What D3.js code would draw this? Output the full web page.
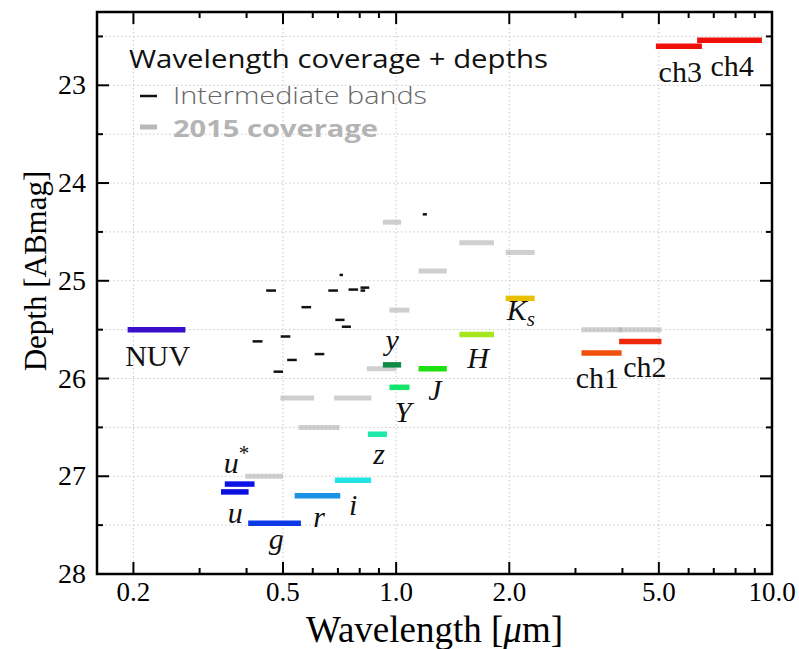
<!DOCTYPE html>
<html lang="en">
<head>
    <meta charset="UTF-8" />
    <script src="https://d3js.org/d3.v7.min.js"></script>
    <title>Wavelength coverage</title>
    <style>
        body { margin: 0; background: #fff; }
        svg { display: block; }
    </style>
</head>
<body>
<svg></svg>
<script>
    // main filters: name, wavelength range [um], depth [ABmag], colour
    let bandNames  = ["NUV", "u*", "u", "g", "r", "i", "z", "y", "Y", "J", "H", "Ks", "ch1", "ch2", "ch3", "ch4"];
    let bandMin    = [0.193, 0.350, 0.342, 0.404, 0.537, 0.687, 0.841, 0.922, 0.960, 1.147, 1.473, 1.956, 3.113, 3.92, 4.91, 6.32];
    let bandMax    = [0.275, 0.420, 0.405, 0.558, 0.710, 0.858, 0.945, 1.031, 1.085, 1.364, 1.821, 2.336, 3.98, 5.08, 6.51, 9.40];
    let bandDepth  = [25.50, 27.08, 27.16, 27.48, 27.20, 27.04, 26.57, 25.86, 26.09, 25.90, 25.55, 25.18, 25.74, 25.62, 22.60, 22.54];
    let bandColors = ["#3a0fcc", "#0b14e6", "#0b10e0", "#0a3ae6", "#1c92e6", "#22e4e4", "#1ee8a8", "#0f8a45",
                      "#12e66a", "#1ee010", "#a6e61c", "#e8c000", "#f0500a", "#f0280a", "#f0100a", "#f0100a"];
    // where each filter name sits (wavelength, depth at baseline)
    let labelX = [0.232, 0.376, 0.373, 0.480, 0.624, 0.769, 0.901, 0.976, 1.044, 1.269, 1.651, 2.148, 3.43, 4.59, 5.70, 7.83];
    let labelY = [25.87, 26.97, 27.48, 27.74, 27.52, 27.40, 26.87, 25.71, 26.44, 26.22, 25.89, 25.40, 26.10, 25.98, 22.97, 22.90];

    // 2015 coverage
    let oldMin   = [0.397, 0.492, 0.550, 0.684, 0.836, 0.922, 0.960, 1.147, 1.473, 1.956, 3.113, 3.92];
    let oldMax   = [0.500, 0.605, 0.707, 0.859, 1.000, 1.031, 1.085, 1.364, 1.821, 2.336, 3.98, 5.08];
    let oldDepth = [27.00, 26.20, 26.50, 26.20, 25.90, 24.40, 25.30, 24.90, 24.61, 24.71, 25.50, 25.50];

    // intermediate bands
    let ibMin   = [1.177, 0.707, 0.451, 0.660, 0.747, 0.804, 0.804, 0.560, 0.689, 0.717, 0.415, 0.493, 0.607, 0.513, 0.472];
    let ibMax   = [1.207, 0.722, 0.479, 0.700, 0.792, 0.848, 0.827, 0.594, 0.729, 0.758, 0.441, 0.523, 0.644, 0.544, 0.500];
    let ibDepth = [24.32, 24.94, 25.10, 25.10, 25.09, 25.07, 25.10, 25.27, 25.40, 25.47, 25.62, 25.57, 25.75, 25.81, 25.93];

    let xMajor = [0.2, 0.5, 1, 2, 5, 10];
    let xMajorLabels = ["0.2", "0.5", "1.0", "2.0", "5.0", "10.0"];
    let xMinor = [0.3, 0.4, 0.6, 0.7, 0.8, 0.9, 3, 4, 6, 7, 8, 9];
    let yMajor = [23, 24, 25, 26, 27, 28];
    let yMinor = [22.5, 23.5, 24.5, 25.5, 26.5, 27.5];

    let width = 799, height = 649;
    let plotL = 97, plotR = 772, plotT = 12, plotB = 574;

    let svg = d3.select("svg")
        .attr("width", width)
        .attr("height", height);

    let x = d3.scaleLog().domain([0.16, 10]).range([plotL, plotR]);
    let y = d3.scaleLinear().domain([22.25, 28]).range([plotT, plotB]);

    let serif = "'Liberation Serif', 'DejaVu Serif', serif";
    let sans = "'Open Sans', Lato, sans-serif";

    // grid
    let grid = svg.append("g").attr("stroke", "#c8c8c8").attr("stroke-width", 1).attr("stroke-dasharray", "1.5,2.5");
    grid.selectAll("line.gx")
        .data(xMajor.slice(0, -1))
        .enter().append("line")
        .attr("x1", d => x(d)).attr("x2", d => x(d))
        .attr("y1", plotT).attr("y2", plotB);
    grid.selectAll("line.gy")
        .data(yMajor.slice(0, -1).concat(yMinor))
        .enter().append("line")
        .attr("x1", plotL).attr("x2", plotR)
        .attr("y1", d => y(d)).attr("y2", d => y(d));

    // 2015 coverage bars
    svg.append("g")
        .selectAll("line")
        .data(oldDepth)
        .enter().append("line")
        .attr("x1", (d, i) => x(oldMin[i]))
        .attr("x2", (d, i) => x(oldMax[i]))
        .attr("y1", d => y(d)).attr("y2", d => y(d))
        .attr("stroke", "#a8a8a8")
        .attr("stroke-opacity", 0.55)
        .attr("stroke-width", 5);

    // intermediate bands
    svg.append("g")
        .selectAll("line")
        .data(ibDepth)
        .enter().append("line")
        .attr("x1", (d, i) => x(ibMin[i]))
        .attr("x2", (d, i) => x(ibMax[i]))
        .attr("y1", d => y(d)).attr("y2", d => y(d))
        .attr("stroke", "#111")
        .attr("stroke-width", 2.5);

    // main filters
    svg.append("g")
        .selectAll("line")
        .data(bandDepth)
        .enter().append("line")
        .attr("x1", (d, i) => x(bandMin[i]))
        .attr("x2", (d, i) => x(bandMax[i]))
        .attr("y1", d => y(d)).attr("y2", d => y(d))
        .attr("stroke", (d, i) => bandColors[i])
        .attr("stroke-width", 5.5);

    // filter names
    let labels = svg.append("g")
        .attr("font-family", serif)
        .attr("font-size", 30)
        .attr("fill", "#111")
        .attr("text-anchor", "middle");
    bandNames.forEach((name, i) => {
        let t = labels.append("text")
            .attr("x", x(labelX[i]))
            .attr("y", y(labelY[i]));
        if (name == "u*") {
            t.append("tspan").attr("font-style", "italic").text("u");
            t.append("tspan").attr("font-size", 21).attr("dy", -13).text("*");
        } else if (name == "Ks") {
            t.append("tspan").attr("font-style", "italic").text("K");
            t.append("tspan").attr("font-style", "italic").attr("font-size", 21).attr("dy", 6).text("s");
        } else if (name.startsWith("ch") || name == "NUV") {
            t.text(name);
        } else {
            t.attr("font-style", "italic").text(name);
        }
    });

    // frame and ticks (inward, all four sides)
    svg.append("rect")
        .attr("x", plotL).attr("y", plotT)
        .attr("width", plotR - plotL).attr("height", plotB - plotT)
        .attr("fill", "none")
        .attr("stroke", "#000")
        .attr("stroke-width", 2.5);

    let ticks = svg.append("g").attr("stroke", "#000").attr("stroke-width", 2);
    function xTicks(vals, len) {
        vals.forEach(v => {
            ticks.append("line").attr("x1", x(v)).attr("x2", x(v)).attr("y1", plotB).attr("y2", plotB - len);
            ticks.append("line").attr("x1", x(v)).attr("x2", x(v)).attr("y1", plotT).attr("y2", plotT + len);
        });
    }
    function yTicks(vals, len) {
        vals.forEach(v => {
            ticks.append("line").attr("y1", y(v)).attr("y2", y(v)).attr("x1", plotL).attr("x2", plotL + len);
            ticks.append("line").attr("y1", y(v)).attr("y2", y(v)).attr("x1", plotR).attr("x2", plotR - len);
        });
    }
    xTicks(xMajor, 12);
    xTicks(xMinor, 6);
    yTicks(yMajor, 12);
    yTicks(yMinor, 6);

    svg.append("g")
        .selectAll("text")
        .data(xMajor)
        .enter().append("text")
        .attr("x", d => x(d))
        .attr("y", plotB + 27)
        .attr("text-anchor", "middle")
        .attr("font-family", serif)
        .attr("font-size", 27)
        .text((d, i) => xMajorLabels[i]);

    svg.append("g")
        .selectAll("text")
        .data(yMajor)
        .enter().append("text")
        .attr("x", plotL - 11)
        .attr("y", d => y(d) + 9)
        .attr("text-anchor", "end")
        .attr("font-family", serif)
        .attr("font-size", 28)
        .text(d => d);

    svg.append("text")
        .attr("x", (plotL + plotR) / 2)
        .attr("y", 642)
        .attr("text-anchor", "middle")
        .attr("font-family", serif)
        .attr("font-size", 37)
        .html("Wavelength [<tspan font-style='italic'>μ</tspan>m]");

    svg.append("text")
        .attr("transform", "translate(46," + ((plotT + plotB) / 2 - 22) + ") rotate(-90)")
        .attr("text-anchor", "middle")
        .attr("font-family", serif)
        .attr("font-size", 31)
        .text("Depth [ABmag]");

    // legend
    let legend = svg.append("g").attr("font-family", sans);
    legend.append("text")
        .attr("x", 129).attr("y", 68)
        .attr("font-size", 26)
        .attr("textLength", 419)
        .attr("lengthAdjust", "spacingAndGlyphs")
        .attr("fill", "#111")
        .text("Wavelength coverage + depths");
    legend.append("line")
        .attr("x1", 140).attr("x2", 157).attr("y1", 96).attr("y2", 96)
        .attr("stroke", "#111").attr("stroke-width", 2.5);
    legend.append("text")
        .attr("x", 173).attr("y", 104)
        .attr("font-size", 24)
        .attr("font-weight", 300)
        .attr("textLength", 254)
        .attr("lengthAdjust", "spacingAndGlyphs")
        .attr("fill", "#666")
        .text("Intermediate bands");
    legend.append("line")
        .attr("x1", 140).attr("x2", 157).attr("y1", 127).attr("y2", 127)
        .attr("stroke", "#a8a8a8").attr("stroke-opacity", 0.8).attr("stroke-width", 5);
    legend.append("text")
        .attr("x", 173).attr("y", 137)
        .attr("font-size", 24)
        .attr("font-weight", 700)
        .attr("textLength", 205)
        .attr("lengthAdjust", "spacingAndGlyphs")
        .attr("fill", "#b4b4b4")
        .text("2015 coverage");
</script>
</body>
</html>
